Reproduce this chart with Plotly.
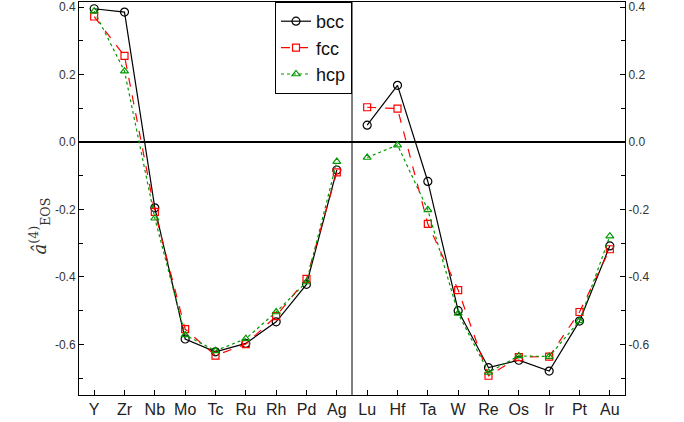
import plotly.graph_objects as go

left_elements = ["Y", "Zr", "Nb", "Mo", "Tc", "Ru", "Rh", "Pd", "Ag"]
right_elements = ["Lu", "Hf", "Ta", "W", "Re", "Os", "Ir", "Pt", "Au"]

bcc_left = [0.395, 0.385, -0.195, -0.584, -0.622, -0.597, -0.533, -0.422, -0.083]
fcc_left = [0.372, 0.255, -0.207, -0.555, -0.633, -0.599, -0.516, -0.406, -0.090]
hcp_left = [0.388, 0.210, -0.226, -0.572, -0.619, -0.583, -0.504, -0.415, -0.058]

bcc_right = [0.050, 0.168, -0.117, -0.500, -0.669, -0.647, -0.679, -0.531, -0.308]
fcc_right = [0.103, 0.099, -0.243, -0.439, -0.693, -0.638, -0.636, -0.504, -0.318]
hcp_right = [-0.046, -0.009, -0.201, -0.508, -0.683, -0.634, -0.636, -0.530, -0.279]

y_ticks = [0.4, 0.2, 0.0, -0.2, -0.4, -0.6]
y_minor = [0.3, 0.1, -0.1, -0.3, -0.5, -0.7]
y_range = [-0.75, 0.415]

elements = left_elements + right_elements
n_left = len(left_elements)
xs = list(range(n_left)) + [None] + list(range(n_left, len(elements)))

series = [
    ("bcc", bcc_left, bcc_right, "black", "solid", "circle-open", 8),
    ("fcc", fcc_left, fcc_right, "#ff0000", "dash", "square-open", 7),
    ("hcp", hcp_left, hcp_right, "#009900", "dot", "triangle-up-open", 7),
]

fig = go.Figure()
for name, l, r, color, dash, sym, size in series:
    fig.add_trace(go.Scatter(
        x=xs, y=l + [None] + r, name=name, mode="lines+markers",
        line=dict(color=color, dash=dash, width=1.2),
        marker=dict(symbol=sym, size=size, color=color, line=dict(width=1.2, color=color)),
        connectgaps=False,
    ))

# invisible trace for right axis
fig.add_trace(go.Scatter(x=[0, len(elements) - 1], y=[0, 0], yaxis="y2", mode="markers",
                         marker=dict(opacity=0), showlegend=False, hoverinfo="skip"))

tick_font = dict(family="Liberation Sans, Arial, sans-serif", size=12, color="#333333")

fig.update_layout(
    width=684, height=422,
    margin=dict(l=79, r=59, t=2, b=27, autoexpand=False),
    plot_bgcolor="white", paper_bgcolor="white",
    showlegend=True,
    legend=dict(x=0.5, xanchor="right", y=1.0, yanchor="top",
                bordercolor="black", borderwidth=1, bgcolor="white",
                font=dict(family="Liberation Sans, Arial, sans-serif", size=18, color="#111111"),
                itemwidth=30, tracegroupgap=0),
    xaxis=dict(range=[-0.5, len(elements) - 0.5], tickvals=list(range(len(elements))),
               ticktext=elements, ticks="inside", ticklen=5, tickcolor="black",
               showline=True, linecolor="black", linewidth=1, mirror=True,
               showgrid=False, zeroline=False,
               tickfont=dict(family="Liberation Sans, Arial, sans-serif", size=16, color="#222222")),
    yaxis=dict(range=y_range, tickvals=y_ticks, ticktext=[f"{v:.1f}" for v in y_ticks],
               ticks="inside", ticklen=5, tickcolor="black",
               minor=dict(tickvals=y_minor, ticks="inside", ticklen=4, tickcolor="black"),
               showline=True, linecolor="black", linewidth=1, mirror=True,
               showgrid=False, zeroline=False, tickfont=tick_font),
    yaxis2=dict(range=y_range, overlaying="y", side="right", tickvals=y_ticks,
                ticktext=[f"{v:.1f}" for v in y_ticks],
                ticks="inside", ticklen=5, tickcolor="black",
                minor=dict(tickvals=y_minor, ticks="inside", ticklen=4, tickcolor="black"),
                showline=True, linecolor="black", linewidth=1,
                showgrid=False, zeroline=False, tickfont=tick_font),
    shapes=[
        dict(type="line", xref="paper", x0=0, x1=1, yref="y", y0=0, y1=0,
             line=dict(color="black", width=2), layer="below"),
        dict(type="line", xref="x", x0=n_left - 0.5, x1=n_left - 0.5, yref="paper", y0=0, y1=1,
             line=dict(color="black", width=1), layer="below"),
    ],
    annotations=[
        dict(text="<i>â</i><sup>(4)</sup><sub>EOS</sub>", xref="paper", yref="paper",
             x=-0.1, y=0.43, textangle=-90, showarrow=False,
             font=dict(family="DejaVu Serif, Liberation Serif, serif", size=18, color="#333333")),
    ],
)

fig.write_html("out.html")
